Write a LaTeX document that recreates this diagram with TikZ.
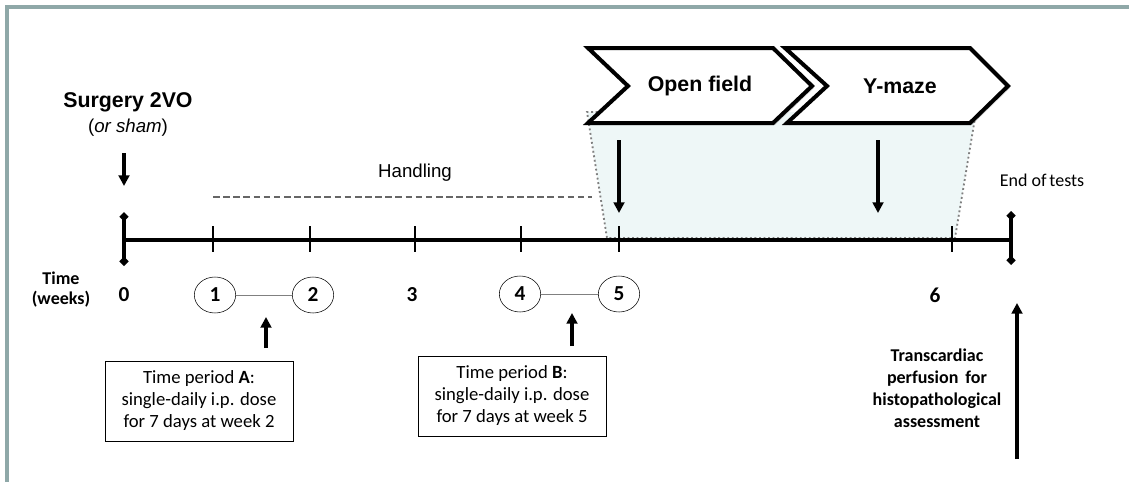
\documentclass[tikz,border=0pt]{standalone}
\usepackage{fontspec}
\setmainfont{Liberation Sans}
\newfontfamily\calibri{Carlito}
\usetikzlibrary{arrows.meta,shadows,shapes.geometric}
\definecolor{framegray}{RGB}{143,168,168}
\definecolor{testbg}{RGB}{238,247,247}

\begin{document}
\begin{tikzpicture}[x=0.75pt,y=-0.75pt,
		arr/.style={line width=2.8pt,-{Triangle[length=8pt,width=8pt]}},
		tick/.style={line width=2pt},
		week/.style={ellipse,draw,thin,minimum width=31pt,minimum height=27pt,inner sep=0pt,font=\calibri\bfseries\fontsize{16}{16}\selectfont},
		label/.style={font=\calibri\bfseries\fontsize{16}{16}\selectfont},
		period/.style={draw,thin,minimum width=141pt,minimum height=60pt,align=center,font=\calibri\fontsize{14}{16.5}\selectfont},
		chev/.style={line width=3pt,fill=white,line join=miter,drop shadow={opacity=0.3,shadow xshift=1.5pt,shadow yshift=-1.5pt}}]
		\useasboundingbox (0,0) rectangle (1129,482);

		% Frame
		\draw[framegray, line width=3pt] (7,482) -- (7,7) -- (1129,7);

		% Shaded test window
		\fill[testbg] (587,112) -- (607,238) -- (955,238) -- (976,112) -- cycle;
		\draw[gray, dotted, line width=1.4pt] (976,112) -- (955,238) -- (607,238) -- (587,112) -- (600,112);

		% Test chevrons
		\draw[chev] (785,48) -- (970,48) -- (1008,86) -- (970,123) -- (787,123) -- (827,86) -- cycle;
		\node[font=\bfseries\fontsize{16}{16}\selectfont] (ymaze) at (900,86) {Y-maze};
		\draw[chev] (588,48) -- (773,48) -- (812,86) -- (773,123) -- (588,123) -- (628,86) -- cycle;
		\node[font=\bfseries\fontsize{16}{16}\selectfont] (openfield) at (700,86) {Open field};

		% Time axis
		\coordinate (t0) at (124,240);
		\coordinate (tend) at (1011,240);
		\draw[line width=3.2pt] (t0) -- (tend);
		\draw[line width=2.4pt, {Turned Square[length=7pt,width=7pt]}-{Turned Square[length=7pt,width=7pt]}] (124,212) -- (124,266);
		\draw[line width=2.4pt, {Turned Square[length=7pt,width=7pt]}-{Turned Square[length=7pt,width=7pt]}] (1011,211) -- (1011,265);
		\foreach \x/\n in {213/t1, 310/t2, 415/t3, 521/t4, 619/t5, 952/t6}
			\draw[tick] (\x,226) coordinate (\n) -- (\x,252);

		% Surgery
		\node[font=\bfseries\fontsize{16}{16}\selectfont] (surgery) at (128,102) {Surgery 2VO};
		\node[font=\fontsize{14}{14}\selectfont] (sham) at (128,128) {(\textit{or sham})};
		\coordinate (s1) at (124,153);
		\coordinate (s2) at (124,186);
		\draw[arr] (s1) -- (s2);

		% Handling
		\node[font=\fontsize{14}{14}\selectfont] (handling) at (415,173) {Handling};
		\coordinate (h1) at (213,197);
		\coordinate (h2) at (592,197);
		\draw[gray!80!black, line width=2pt, dash pattern=on 5pt off 2.6pt] (h1) -- (h2);

		% Test arrows
		\coordinate (o1) at (619,140);
		\coordinate (o2) at (619,213);
		\draw[arr] (o1) -- (o2);
		\coordinate (y1) at (878,140);
		\coordinate (y2) at (878,213);
		\draw[arr] (y1) -- (y2);
		\node[font=\calibri\fontsize{13.5}{13.5}\selectfont] (endtests) at (1042,180) {End of\,tests};

		% Weeks
		\node[align=center, font=\calibri\bfseries\fontsize{13.5}{15}\selectfont] (time) at (61,290) {Time\\(weeks)};
		\node[label] (w0) at (124,295) {0};
		\node[label] (w3) at (412,295) {3};
		\node[label] (w6) at (935,295) {6};
		\node[week] (w1) at (215,295) {1};
		\node[week] (w2) at (313,295) {2};
		\node[week] (w4) at (520,294) {4};
		\node[week] (w5) at (619,294) {5};
		\draw[gray, thin] (w1) -- (w2);
		\draw[gray, thin] (w4) -- (w5);

		% Treatment periods
		\node[period] (perA) at (199,401) {Time period \textbf{A}:\\single-daily i.p. dose\\for 7 days at week 2};
		\node[period] (perB) at (512,396) {Time period \textbf{B}:\\single-daily i.p. dose\\for 7 days at week 5};
		\coordinate (a1) at (266,348);
		\coordinate (a2) at (266,317);
		\draw[arr] (a1) -- (a2);
		\coordinate (b1) at (572,346);
		\coordinate (b2) at (572,313);
		\draw[arr] (b1) -- (b2);

		% Perfusion
		\node[align=center, font=\calibri\bfseries\fontsize{13.5}{16.5}\selectfont] (perfusion) at (937,388) {Transcardiac\\perfusion\, for\\histopathological\\assessment};
		\coordinate (p1) at (1017,459);
		\coordinate (p2) at (1017,303);
		\draw[arr] (p1) -- (p2);
\end{tikzpicture}
\end{document}
